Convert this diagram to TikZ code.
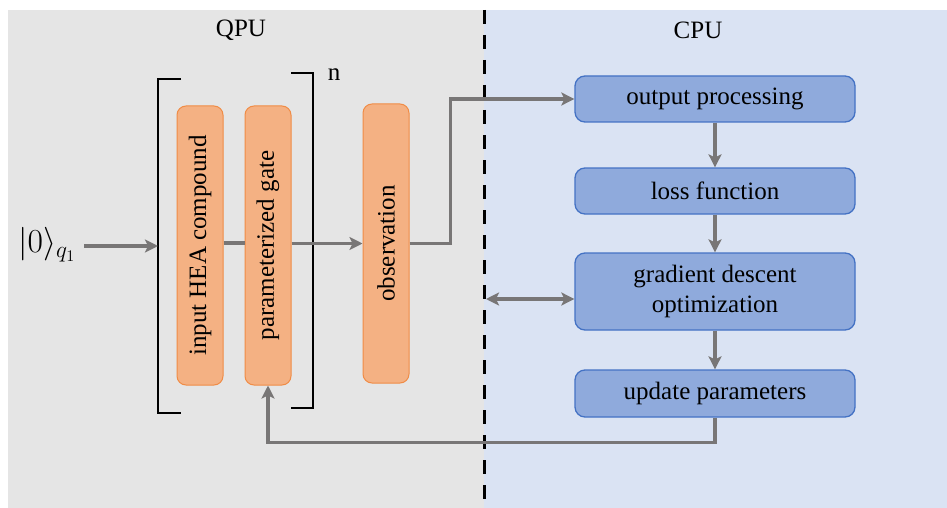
\documentclass[tikz,border=0pt]{standalone}
\usepackage{fontspec}
\setmainfont{Liberation Serif}
\usetikzlibrary{arrows.meta}
\definecolor{qbg}{RGB}{229,229,229}
\definecolor{cbg}{RGB}{218,227,243}
\definecolor{ofill}{RGB}{244,177,131}
\definecolor{odraw}{RGB}{240,140,70}
\definecolor{bfill}{RGB}{143,170,220}
\definecolor{bdraw}{RGB}{68,114,196}
\definecolor{arr}{RGB}{120,118,118}
\tikzset{
  obox/.style={draw=odraw, fill=ofill, line width=1pt, rounded corners=9pt,
    minimum width=46pt, minimum height=279pt, inner sep=0pt},
  bbox/.style={draw=bdraw, fill=bfill, line width=1.3pt, rounded corners=10pt,
    minimum width=280pt, minimum height=46pt, inner sep=0pt, align=center},
  conn/.style={draw=arr, line width=3.5pt},
  tip/.style={-{Stealth[length=13pt,width=13pt,inset=3pt]}},
  brk/.style={draw=black, line width=2pt},
  lbl/.style={inner sep=0pt}
}
\begin{document}
\begin{tikzpicture}[x=1pt,y=-1pt,font=\fontsize{25}{30}\selectfont]
\useasboundingbox (0,0) rectangle (947,508);
\fill[white] (0,0) rectangle (947,508);
\fill[qbg] (8,10) rectangle (484,508);
\fill[cbg] (484,10) rectangle (947,508);
\draw[black, line width=3pt, dash pattern=on 14pt off 11pt] (484,10) -- (484,508);

\node[lbl] (qpu) at (241,30) {QPU};
\node[lbl] (cpu) at (698,30) {CPU};

% brackets
\draw[brk] (181,79) -- (158,79) -- (158,413) -- (181,413);
\draw[brk] (291,73) -- (313,73) -- (313,408) -- (291,408);
\node[lbl] (n) at (334,75) {n};

\node[obox] (b1) at (200,245.5) {\rotatebox{90}{input HEA compound}};
\node[obox] (b2) at (268,245.5) {\rotatebox{90}{parameterized gate}};
\node[obox] (obs) at (386,243.5) {\rotatebox{90}{observation}};

\node[lbl] (ket) at (47,245) {\scalebox{1.35}{$|0\rangle_{q_1}$}};
\coordinate (brin) at (158,246);

\node[bbox] (op) at (715,99) {output processing};
\node[bbox] (lf) at (715,191) {loss function};
\node[bbox, minimum height=77pt] (gd) at (715,291.5) {gradient descent\\optimization};
\node[bbox, minimum height=47pt] (up) at (715,393.5) {update parameters};
\coordinate (dl) at (486,299);

% connectors
\draw[conn, tip] (84,246) -- (brin);
\draw[conn] (b1.east |- 0,243) -- (b2.west |- 0,243);
\draw[conn, tip] (b2.east |- obs.west) -- (obs.west);
\draw[conn, tip] (obs.east) -- ++(41,0) |- (op.west);
\draw[conn, tip] (op.south) -- (lf.north);
\draw[conn, tip] (lf.south) -- (gd.north);
\draw[conn, tip] (gd.south) -- (up.north);
\draw[conn, {Stealth[length=13pt,width=13pt,inset=3pt]}-{Stealth[length=13pt,width=13pt,inset=3pt]}] (dl) -- (gd.west |- dl);
\draw[conn, tip] (up.south) -- ++(0,25) -| (b2.south);
\end{tikzpicture}
\end{document}
